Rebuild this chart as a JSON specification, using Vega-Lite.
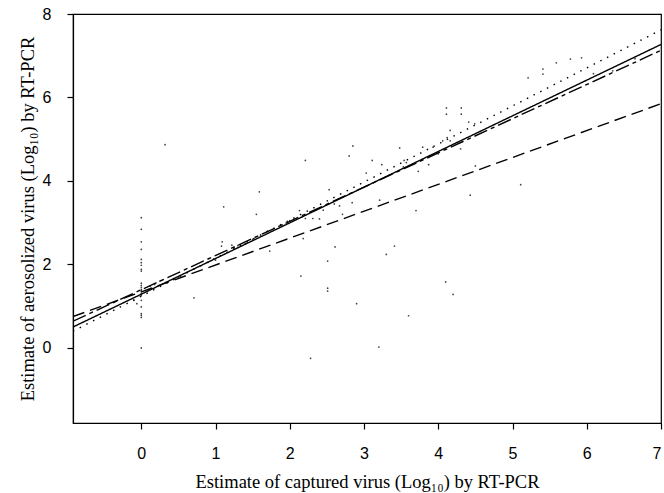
{
  "$schema": "https://vega.github.io/schema/vega-lite/v6.json",
  "width": 588,
  "height": 409,
  "autosize": {"type": "none"},
  "padding": {"left": 73, "top": 14, "right": 3, "bottom": 70},
  "background": "white",
  "config": {
    "view": {"stroke": "black", "strokeWidth": 1.2},
    "axis": {
      "grid": false,
      "domainColor": "black",
      "domainWidth": 1.2,
      "tickColor": "black",
      "tickSize": 6,
      "tickWidth": 1.2,
      "labelColor": "black",
      "labelFont": "Liberation Sans",
      "labelFontSize": 16,
      "titleColor": "black",
      "titleFont": "Liberation Serif",
      "titleFontSize": 18.5,
      "titleFontWeight": "normal"
    }
  },
  "datasets": {
    "pts": [
      {"x": 0, "y": 3.12}, {"x": 0, "y": 2.84}, {"x": 0, "y": 2.54}, {"x": 0, "y": 2.36}, {"x": 0, "y": 2.12},
      {"x": 0, "y": 2.04}, {"x": 0, "y": 1.98}, {"x": 0, "y": 1.88}, {"x": 0, "y": 1.84}, {"x": 0, "y": 1.55},
      {"x": 0, "y": 1.5}, {"x": 0, "y": 1.45}, {"x": 0, "y": 1.4}, {"x": 0, "y": 1.37}, {"x": 0, "y": 1.3},
      {"x": 0, "y": 1.25}, {"x": 0, "y": 1.14}, {"x": 0, "y": 0.98}, {"x": 0, "y": 0.82}, {"x": 0, "y": 0.78},
      {"x": 0, "y": 0.73}, {"x": 0, "y": 0},
      {"x": -0.1, "y": 1.14}, {"x": -0.06, "y": 1.06}, {"x": 0.12, "y": 1.48}, {"x": 0.18, "y": 1.52},
      {"x": 0.25, "y": 1.6}, {"x": 0.32, "y": 4.87}, {"x": 0.71, "y": 1.2}, {"x": 1.11, "y": 3.38},
      {"x": 1.55, "y": 3.2}, {"x": 1.09, "y": 2.54}, {"x": 1.08, "y": 2.44}, {"x": 1.22, "y": 2.46},
      {"x": 1.73, "y": 2.32}, {"x": 1.59, "y": 3.74},
      {"x": 4.11, "y": 5.75}, {"x": 4.11, "y": 5.6}, {"x": 4.31, "y": 5.75}, {"x": 4.31, "y": 5.6},
      {"x": 4.41, "y": 5.41}, {"x": 2.85, "y": 4.84}, {"x": 2.8, "y": 4.6}, {"x": 2.21, "y": 4.49},
      {"x": 3.48, "y": 4.79}, {"x": 3.79, "y": 4.81}, {"x": 4.16, "y": 5.21}, {"x": 4.3, "y": 4.77},
      {"x": 4.0, "y": 4.65}, {"x": 3.11, "y": 4.49}, {"x": 3.24, "y": 4.39}, {"x": 3.53, "y": 4.34},
      {"x": 3.87, "y": 4.39}, {"x": 3.73, "y": 4.23}, {"x": 3.03, "y": 4.19}, {"x": 2.53, "y": 3.79},
      {"x": 2.84, "y": 3.48}, {"x": 3.21, "y": 3.54}, {"x": 4.43, "y": 3.66}, {"x": 3.7, "y": 3.29},
      {"x": 2.67, "y": 3.4}, {"x": 2.13, "y": 3.29}, {"x": 2.71, "y": 3.2}, {"x": 2.21, "y": 3.1},
      {"x": 2.4, "y": 3.09}, {"x": 2.31, "y": 3.1},
      {"x": 2.18, "y": 2.62}, {"x": 2.61, "y": 2.42}, {"x": 3.41, "y": 2.44}, {"x": 3.3, "y": 2.24},
      {"x": 2.51, "y": 2.08}, {"x": 2.15, "y": 1.72}, {"x": 2.51, "y": 1.43}, {"x": 2.51, "y": 1.36},
      {"x": 2.9, "y": 1.06}, {"x": 3.6, "y": 0.77}, {"x": 3.2, "y": 0.02}, {"x": 2.28, "y": -0.25},
      {"x": 4.1, "y": 1.58}, {"x": 4.2, "y": 1.28},
      {"x": 5.21, "y": 6.47}, {"x": 5.41, "y": 6.68}, {"x": 5.41, "y": 6.56}, {"x": 5.59, "y": 6.83},
      {"x": 5.78, "y": 6.92}, {"x": 5.93, "y": 6.95}, {"x": 5.11, "y": 3.91}, {"x": 4.5, "y": 4.36},
      {"x": 4.49, "y": 5.37}, {"x": 4.12, "y": 5.04}, {"x": 4.16, "y": 4.96}, {"x": 4.06, "y": 4.96},
      {"x": 3.93, "y": 4.81}, {"x": 3.57, "y": 4.44}, {"x": 3.54, "y": 4.49}, {"x": 6.09, "y": 6.57},
      {"x": 6.35, "y": 6.64}, {"x": 6.65, "y": 6.93},
      {"x": 1.3, "y": 2.45}, {"x": 1.5, "y": 2.6}, {"x": 1.7, "y": 2.8}, {"x": 1.9, "y": 2.95},
      {"x": 2.0, "y": 3.05}, {"x": 1.4, "y": 2.5}, {"x": 1.25, "y": 2.4}, {"x": 2.45, "y": 3.3},
      {"x": 2.6, "y": 3.45}, {"x": 0.5, "y": 1.7}, {"x": 0.9, "y": 2.05}, {"x": 1.0, "y": 2.1}
    ],
    "fits": [
      {"series": "solid", "x": -0.92, "y": 0.5}, {"series": "solid", "x": 7.0, "y": 7.27},
      {"series": "dotted", "x": -0.92, "y": 0.4}, {"series": "dotted", "x": 7.0, "y": 7.62},
      {"series": "dashdot", "x": -0.92, "y": 0.64}, {"series": "dashdot", "x": 7.0, "y": 7.13},
      {"series": "dashed", "x": -0.92, "y": 0.75}, {"series": "dashed", "x": 7.0, "y": 5.85}
    ]
  },
  "layer": [
    {
      "data": {"name": "pts"},
      "mark": {"type": "point", "filled": true, "size": 3, "color": "black", "opacity": 0.75, "clip": true},
      "encoding": {
        "x": {
          "field": "x", "type": "quantitative",
          "scale": {"domain": [-0.92, 7.0], "nice": false, "zero": false},
          "axis": {"values": [0, 1, 2, 3, 4, 5, 6, 7], "format": "d", "labelPadding": 16, "titlePadding": 11,
                   "title": "Estimate of captured virus (Log₁₀) by RT-PCR"}
        },
        "y": {
          "field": "y", "type": "quantitative",
          "scale": {"domain": [-1.8, 8], "nice": false, "zero": false},
          "axis": {"values": [0, 2, 4, 6, 8], "format": "d", "labelPadding": 16, "titlePadding": 5,
                   "title": "Estimate of aerosolized virus (Log₁₀) by RT-PCR"}
        }
      }
    },
    {
      "data": {"name": "fits"},
      "mark": {"type": "line", "color": "black", "strokeWidth": 1.4, "clip": true},
      "encoding": {
        "x": {"field": "x", "type": "quantitative"},
        "y": {"field": "y", "type": "quantitative"},
        "detail": {"field": "series"},
        "strokeDash": {
          "field": "series", "type": "nominal", "legend": null,
          "scale": {"domain": ["solid", "dotted", "dashdot", "dashed"],
                    "range": [[1, 0], [1.5, 6], [14, 4, 4, 4], [12, 6]]}
        }
      }
    }
  ]
}
